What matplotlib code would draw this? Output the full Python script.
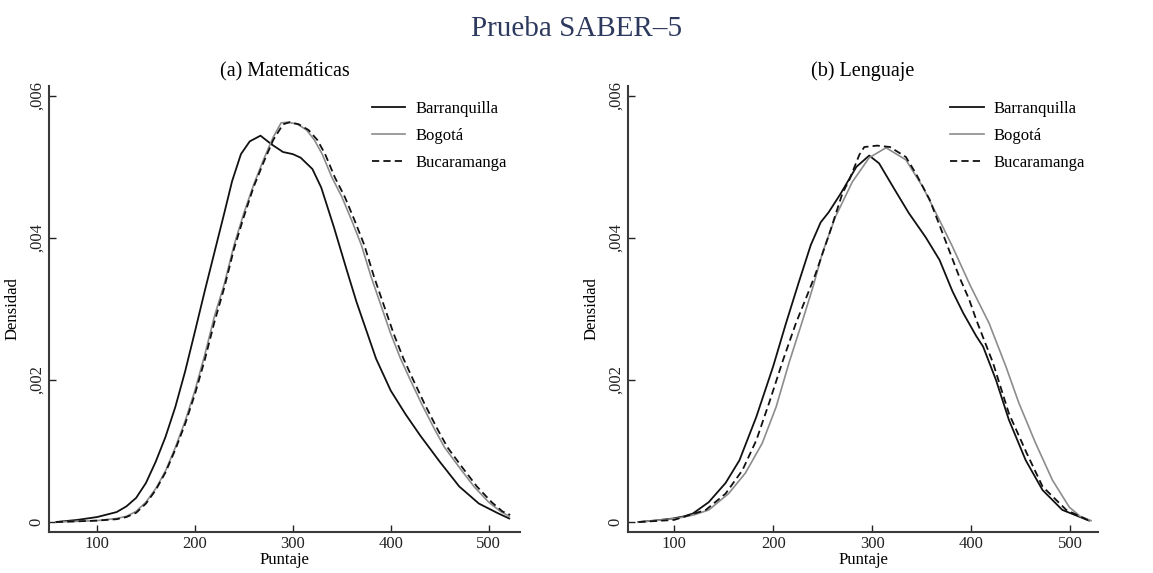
import matplotlib
matplotlib.use("Agg")
import matplotlib.pyplot as plt

plt.rcParams['font.family'] = ['Liberation Serif', 'DejaVu Serif']

# ---------------- data (density in units of 1e-3) ----------------
series_names = ["Barranquilla", "Bogotá", "Bucaramanga"]

# Panel (a) Matemáticas
mat_baq_x = [58, 80, 100, 120, 130, 140, 150, 160, 170, 180, 190, 200, 210, 220, 230, 238, 247, 256, 267,
             278, 290, 300, 308, 320, 329, 342, 355, 365, 375, 385, 400, 415, 430, 450, 470, 490, 510, 521]
mat_baq_y = [0.0, 0.03, 0.07, 0.14, 0.22, 0.34, 0.55, 0.85, 1.2, 1.62, 2.12, 2.68, 3.25, 3.8, 4.35, 4.8, 5.18, 5.36, 5.44,
             5.32, 5.21, 5.18, 5.13, 4.97, 4.71, 4.15, 3.55, 3.1, 2.7, 2.3, 1.85, 1.52, 1.22, 0.85, 0.5, 0.26, 0.12, 0.05]

mat_bog_x = [58, 80, 100, 120, 130, 140, 150, 160, 170, 180, 190, 200, 210, 220, 230, 240, 250, 260, 270, 280, 288,
             295, 305, 314, 322, 330, 340, 350, 360, 370, 380, 390, 400, 410, 420, 432, 445, 455, 470, 485, 500, 512, 521]
mat_bog_y = [0.0, 0.01, 0.02, 0.05, 0.08, 0.15, 0.28, 0.47, 0.72, 1.05, 1.42, 1.85, 2.35, 2.9, 3.35, 3.9, 4.35, 4.75, 5.1, 5.42, 5.62,
             5.63, 5.6, 5.52, 5.38, 5.18, 4.85, 4.58, 4.25, 3.9, 3.45, 3.05, 2.65, 2.3, 2.0, 1.65, 1.3, 1.05, 0.77, 0.5, 0.28, 0.15, 0.08]

mat_buc_x = [58, 80, 100, 120, 130, 140, 150, 160, 170, 180, 190, 200, 210, 220, 230, 240, 250, 260, 270, 280, 290,
             297, 306, 316, 325, 333, 343, 353, 363, 373, 383, 393, 403, 413, 423, 435, 448, 458, 473, 488, 503, 514, 522]
mat_buc_y = [0.0, 0.01, 0.02, 0.04, 0.07, 0.13, 0.26, 0.45, 0.7, 1.02, 1.38, 1.8, 2.28, 2.82, 3.3, 3.85, 4.3, 4.72, 5.06, 5.38, 5.6,
             5.63, 5.6, 5.52, 5.38, 5.18, 4.85, 4.58, 4.25, 3.9, 3.45, 3.05, 2.65, 2.3, 2.0, 1.65, 1.3, 1.05, 0.77, 0.5, 0.28, 0.15, 0.1]

# Panel (b) Lenguaje
len_baq_x = [64, 80, 99, 110, 119, 135, 152, 166, 183, 200, 213, 226, 238, 248, 256, 268, 284, 297,
             307, 321, 337, 354, 368, 381, 392, 405, 412, 425, 438, 455, 472, 492, 519]
len_baq_y = [0.0, 0.02, 0.05, 0.08, 0.12, 0.28, 0.55, 0.87, 1.48, 2.19, 2.8, 3.38, 3.9, 4.22, 4.36, 4.62, 5.0, 5.16,
             5.05, 4.72, 4.35, 4.01, 3.69, 3.25, 2.94, 2.62, 2.47, 2.0, 1.44, 0.87, 0.45, 0.17, 0.02]

len_bog_x = [64, 102, 120, 135, 155, 172, 189, 203, 216, 230, 240, 250, 263, 280, 297, 314,
             334, 351, 368, 381, 399, 418, 435, 448, 465, 482, 499, 510, 521]
len_bog_y = [0.0, 0.05, 0.1, 0.17, 0.4, 0.69, 1.11, 1.62, 2.24, 2.85, 3.3, 3.8, 4.3, 4.79, 5.13, 5.27,
             5.1, 4.72, 4.25, 3.88, 3.33, 2.8, 2.19, 1.68, 1.11, 0.59, 0.21, 0.08, 0.02]

len_buc_x = [64, 100, 132, 152, 169, 183, 196, 210, 223, 236, 243, 257, 270, 277, 287, 292, 305, 318,
             334, 344, 358, 371, 388, 398, 405, 422, 438, 456, 472, 496, 519]
len_buc_y = [0.0, 0.03, 0.17, 0.4, 0.73, 1.15, 1.68, 2.28, 2.8, 3.25, 3.5, 4.07, 4.63, 4.82, 5.17, 5.28, 5.3, 5.28,
             5.14, 4.91, 4.54, 4.07, 3.45, 3.13, 2.85, 2.24, 1.53, 0.97, 0.5, 0.17, 0.02]

panel_titles = ["(a) Matemáticas", "(b) Lenguaje"]
main_title = "Prueba SABER\u20135"
x_label = "Puntaje"
y_label = "Densidad"
x_ticks = [100, 200, 300, 400, 500]
y_ticks = [0, 0.002, 0.004, 0.006]
y_tick_labels = ["0", ",002", ",004", ",006"]

panels = [
    [(mat_baq_x, mat_baq_y), (mat_bog_x, mat_bog_y), (mat_buc_x, mat_buc_y)],
    [(len_baq_x, len_baq_y), (len_bog_x, len_bog_y), (len_buc_x, len_buc_y)],
]

styles = [
    dict(color="#111111", lw=1.3, ls="-"),
    dict(color="#8c8c8c", lw=1.2, ls="-"),
    dict(color="#111111", lw=1.3, ls=(0, (4, 2.3))),
]

fig = plt.figure(figsize=(11.53, 5.73), dpi=100)
fig.text(0.5, 0.950, main_title, ha="center", va="center", fontsize=21, color="#2d3a5e")

axes_pos = [(0.0425, 0.0716, 0.4085, 0.7784), (0.5447, 0.0716, 0.4076, 0.7784)]
xlims = [(51, 532), (53.5, 528)]

for i, (pos, data) in enumerate(zip(axes_pos, panels)):
    ax = fig.add_axes(pos)
    for (xs, ys), st, name in zip(data, styles, series_names):
        ax.plot(xs, [v / 1000.0 for v in ys], label=name, **st)
    ax.set_xlim(*xlims[i])
    ax.set_ylim(-0.00014, 0.00614)
    for s in ["top", "right"]:
        ax.spines[s].set_visible(False)
    for s in ["left", "bottom"]:
        ax.spines[s].set_linewidth(1.5)
        ax.spines[s].set_color("#3a3a3a")
    ax.set_xticks(x_ticks)
    ax.set_xticklabels([str(t) for t in x_ticks])
    ax.set_yticks(y_ticks)
    ax.set_yticklabels(y_tick_labels, rotation=90, va="center")
    ax.tick_params(direction="in", length=5, width=1.0, colors="#222222", labelsize=12)
    ax.tick_params(axis="y", pad=3)
    ax.tick_params(axis="x", pad=3)
    ax.set_xlabel(x_label, fontsize=12, labelpad=0)
    ax.set_ylabel(y_label, fontsize=12, labelpad=6)
    ax.set_title(panel_titles[i], fontsize=14.5, pad=7)
    ax.legend(loc="upper left", bbox_to_anchor=(0.686, 0.967), frameon=False, fontsize=12,
              handlelength=2.0, handletextpad=0.6, labelspacing=0.66, borderpad=0, borderaxespad=0)

fig.savefig("out.png", dpi=100)
